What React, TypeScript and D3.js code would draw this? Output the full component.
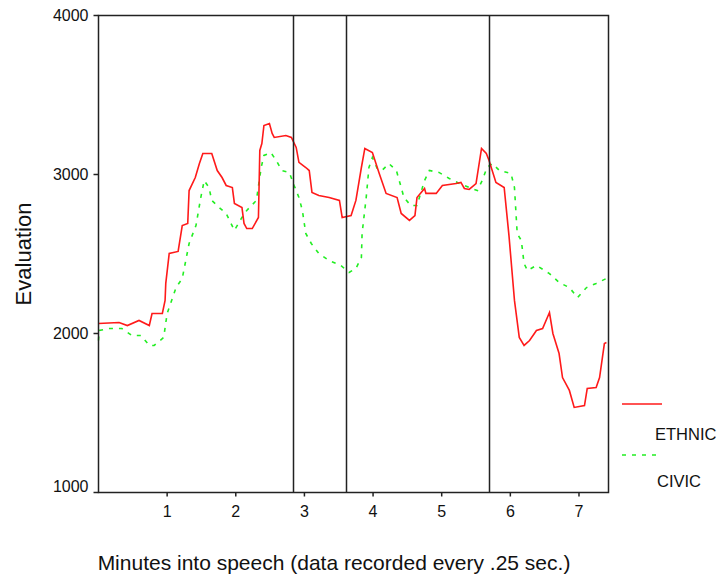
import React from 'react';
import * as d3 from 'd3';

// axis ticks
const minuteTicks = [1, 2, 3, 4, 5, 6, 7];
const evalTicks = [1000, 2000, 3000, 4000];
// vertical markers (minutes)
const segmentBreaks = [2.84, 3.61, 5.69];

// ETHNIC series (minute, evaluation)
const ethnicMinutes = [0.00, 0.30, 0.42, 0.59, 0.74, 0.78, 0.93, 0.97, 0.98, 1.03, 1.16, 1.22, 1.30, 1.32, 1.41, 1.47, 1.52, 1.65, 1.73, 1.80, 1.86, 1.95, 1.98, 2.09, 2.12, 2.16, 2.24, 2.33, 2.35, 2.38, 2.41, 2.49, 2.53, 2.56, 2.73, 2.81, 2.88, 2.92, 3.02, 3.07, 3.11, 3.21, 3.36, 3.51, 3.55, 3.68, 3.75, 3.83, 3.88, 3.99, 4.09, 4.19, 4.35, 4.41, 4.53, 4.61, 4.64, 4.75, 4.77, 4.92, 5.01, 5.21, 5.28, 5.33, 5.40, 5.50, 5.58, 5.65, 5.69, 5.79, 5.91, 5.98, 6.06, 6.13, 6.20, 6.28, 6.38, 6.47, 6.57, 6.62, 6.71, 6.76, 6.86, 6.93, 7.08, 7.12, 7.25, 7.30, 7.37, 7.40];
const ethnicValues = [2063, 2069, 2050, 2082, 2050, 2126, 2126, 2208, 2315, 2503, 2516, 2679, 2692, 2899, 2981, 3069, 3132, 3132, 3025, 2981, 2931, 2918, 2818, 2792, 2692, 2660, 2660, 2730, 3151, 3195, 3308, 3321, 3258, 3233, 3245, 3233, 3170, 3076, 3044, 3025, 2887, 2868, 2855, 2837, 2730, 2742, 2837, 3044, 3164, 3138, 3006, 2881, 2855, 2755, 2711, 2742, 2855, 2912, 2881, 2881, 2931, 2943, 2950, 2912, 2906, 2943, 3164, 3132, 3088, 2950, 2918, 2616, 2208, 1975, 1925, 1956, 2019, 2031, 2132, 2000, 1874, 1723, 1642, 1535, 1547, 1654, 1660, 1723, 1937, 1943];

// CIVIC series (minute, evaluation)
const civicMinutes = [0.00, 0.01, 0.15, 0.34, 0.49, 0.62, 0.74, 0.81, 0.95, 1.00, 1.13, 1.22, 1.32, 1.42, 1.49, 1.54, 1.61, 1.65, 1.76, 1.86, 1.98, 2.09, 2.16, 2.30, 2.37, 2.41, 2.51, 2.59, 2.67, 2.78, 2.85, 2.92, 2.97, 3.02, 3.10, 3.21, 3.36, 3.53, 3.65, 3.75, 3.83, 3.84, 3.90, 3.94, 3.99, 4.06, 4.13, 4.23, 4.34, 4.41, 4.45, 4.55, 4.64, 4.75, 4.82, 4.96, 5.11, 5.26, 5.40, 5.52, 5.59, 5.66, 5.74, 5.84, 6.01, 6.06, 6.10, 6.16, 6.20, 6.25, 6.38, 6.57, 6.71, 6.86, 6.98, 7.11, 7.25, 7.40];
const civicValues = [1956, 2019, 2031, 2031, 1987, 1987, 1925, 1925, 1975, 2126, 2289, 2346, 2566, 2679, 2855, 2962, 2918, 2837, 2792, 2755, 2648, 2730, 2774, 2837, 3044, 3120, 3138, 3088, 3025, 3013, 2931, 2855, 2774, 2629, 2566, 2503, 2459, 2428, 2384, 2409, 2478, 2629, 2855, 3044, 3107, 3038, 3025, 3069, 3025, 2918, 2855, 2805, 2805, 2962, 3025, 3013, 2975, 2943, 2918, 2899, 2962, 3044, 3069, 3025, 3006, 2918, 2629, 2585, 2440, 2396, 2428, 2377, 2321, 2289, 2226, 2289, 2315, 2346];

const W = 718;
const H = 577;
const left = 98.5, right = 608.5, top = 15.5, bottom = 492.5;
const font = 'Arial, "Liberation Sans", sans-serif';

export default function App() {
  const x = d3.scaleLinear().domain([0, 7.43]).range([left, right]);
  const y = d3.scaleLinear().domain([1000, 4000]).range([bottom, top]);

  const line = d3.line<[number, number]>()
    .x(d => x(d[0]))
    .y(d => y(d[1]));

  const ethnic = ethnicMinutes.map((m, i) => [m, ethnicValues[i]] as [number, number]);
  const civic = civicMinutes.map((m, i) => [m, civicValues[i]] as [number, number]);

  return (
    <svg width={W} height={H} style={{ position: 'absolute', left: 0, top: 0, background: '#fff' }}>
      <path d={line(civic) || ''} fill="none" stroke="#22ee22" strokeWidth={1.6} strokeDasharray="4,6" />
      <path d={line(ethnic) || ''} fill="none" stroke="#ff1a1a" strokeWidth={1.6} />

      {segmentBreaks.map(b => (
        <line key={b} x1={Math.round(x(b)) + 0.5} x2={Math.round(x(b)) + 0.5} y1={top} y2={bottom} stroke="#222" strokeWidth={1.5} />
      ))}

      <rect x={left} y={top} width={right - left} height={bottom - top} fill="none" stroke="#222" strokeWidth={1.5} />

      {evalTicks.map((t, i) => (
        <g key={t}>
          <line x1={left - 5} x2={left} y1={y(t)} y2={y(t)} stroke="#222" strokeWidth={1.5} />
          <text x={left - 10} y={y(t) + (i === 0 ? -6 : 0)} dy="0.35em" textAnchor="end" fontFamily={font} fontSize={16} fill="#111">{t}</text>
        </g>
      ))}

      {minuteTicks.map(t => (
        <g key={t}>
          <line x1={x(t)} x2={x(t)} y1={bottom} y2={bottom + 4} stroke="#222" strokeWidth={1.5} />
          <text x={x(t)} y={bottom + 24} textAnchor="middle" fontFamily={font} fontSize={16} fill="#111">{t}</text>
        </g>
      ))}

      <text transform={`translate(31,${(top + bottom) / 2}) rotate(-90)`} textAnchor="middle" fontFamily={font} fontSize={22} fill="#111">Evaluation</text>
      <text x={334} y={570} textAnchor="middle" fontFamily={font} fontSize={21} fill="#111">Minutes into speech (data recorded every .25 sec.)</text>

      <line x1={622} x2={662} y1={404} y2={404} stroke="#ff1a1a" strokeWidth={1.6} />
      <text x={655} y={440} fontFamily={font} fontSize={16.5} fill="#111">ETHNIC</text>
      <line x1={622} x2={662} y1={455} y2={455} stroke="#22ee22" strokeWidth={1.6} strokeDasharray="4,6" />
      <text x={657} y={487} fontFamily={font} fontSize={16.5} fill="#111">CIVIC</text>
    </svg>
  );
}
